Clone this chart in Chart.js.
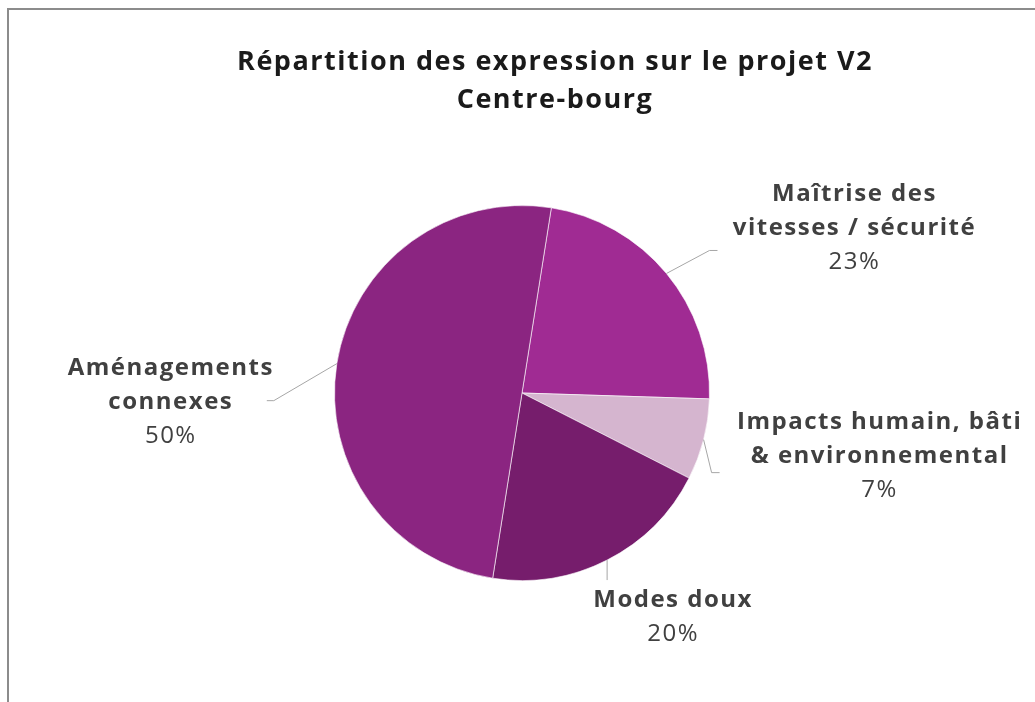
<!DOCTYPE html>
<html>
<head>
<meta charset="utf-8">
<script src="https://cdn.jsdelivr.net/npm/chart.js@4"></script>
<style>
  html, body { margin: 0; padding: 0; background: #fff; }
  #wrap { position: relative; width: 1035px; height: 702px; overflow: hidden; }
  #frame { position: absolute; left: 7px; top: 8px; width: 1100px; height: 800px; border: 2px solid #8c8c8c; }
  canvas { position: absolute; left: 0; top: 0; }
</style>
</head>
<body>
<div id="wrap">
  <div id="frame"></div>
  <canvas id="pieChart" width="1035" height="702"></canvas>
</div>
<script>
const titleLines = ['Répartition des expression sur le projet V2', 'Centre-bourg'];
const categories = [['Maîtrise des', 'vitesses / sécurité'], ['Impacts humain, bâti', '& environnemental'], ['Modes doux'], ['Aménagements', 'connexes']];
const shares = [23, 7, 20, 50];
const colors = ['#a02b93', '#d5b5cf', '#761d6c', '#8b2581'];

// leader line + label placement per slice (offsets from the arc edge point)
const labelPlace = [
  { elbow: [43, -23], tail: 8, text: [137, -56] },
  { elbow: [8, 33], tail: 8, text: [160, -50] },
  { elbow: [0, 20], tail: 0, text: [66, 20] },
  { elbow: [-63, 37], tail: -7, text: [-96, -33] }
];

const FONT = '"Open Sans", "DejaVu Sans", sans-serif';

const titleDraw = {
  id: 'titleDraw',
  afterDraw(chart) {
    const c = chart.ctx;
    c.save();
    c.fillStyle = '#1a1a1a';
    c.textAlign = 'center';
    c.textBaseline = 'middle';
    c.font = 'bold 27px ' + FONT;
    c.letterSpacing = '1.5px';
    titleLines.forEach((t, i) => c.fillText(t, 555, 62 + i * 38));
    c.restore();
  }
};

const outsideLabels = {
  id: 'outsideLabels',
  afterDatasetsDraw(chart) {
    const c = chart.ctx;
    const arcs = chart.getDatasetMeta(0).data;
    arcs.forEach((arc, i) => {
      const p = arc.getProps(['x', 'y', 'startAngle', 'endAngle', 'outerRadius'], true);
      const mid = (p.startAngle + p.endAngle) / 2;
      const ex = p.x + Math.cos(mid) * p.outerRadius;
      const ey = p.y + Math.sin(mid) * p.outerRadius;
      const pl = labelPlace[i];
      const bx = ex + pl.elbow[0], by = ey + pl.elbow[1];
      const tx = bx + pl.tail;
      c.save();
      c.strokeStyle = '#a6a6a6';
      c.lineWidth = 1;
      c.beginPath();
      c.moveTo(ex, ey);
      c.lineTo(bx, by);
      c.lineTo(tx, by);
      c.stroke();

      const cx = tx + pl.text[0];
      let ly = by + pl.text[1];
      c.fillStyle = '#404040';
      c.textAlign = 'center';
      c.textBaseline = 'middle';
      c.letterSpacing = '1.5px';
      c.font = 'bold 24px ' + FONT;
      categories[i].forEach(line => {
        c.fillText(line, cx, ly);
        ly += 34;
      });
      c.font = '24px ' + FONT;
      c.fillText(shares[i] + '%', cx, ly);
      c.restore();
    });
  }
};

new Chart(document.getElementById('pieChart'), {
  type: 'pie',
  data: {
    labels: categories.map(l => l.join(' ')),
    datasets: [{
      data: shares,
      backgroundColor: colors,
      borderColor: 'rgba(255,255,255,0.6)',
      borderWidth: 1
    }]
  },
  options: {
    responsive: false,
    animation: false,
    rotation: 9,
    layout: { padding: { left: 334, right: 325, top: 205, bottom: 121 } },
    plugins: {
      legend: { display: false },
      tooltip: { enabled: false },
      title: { display: false }
    }
  },
  plugins: [outsideLabels, titleDraw]
});
</script>
</body>
</html>
